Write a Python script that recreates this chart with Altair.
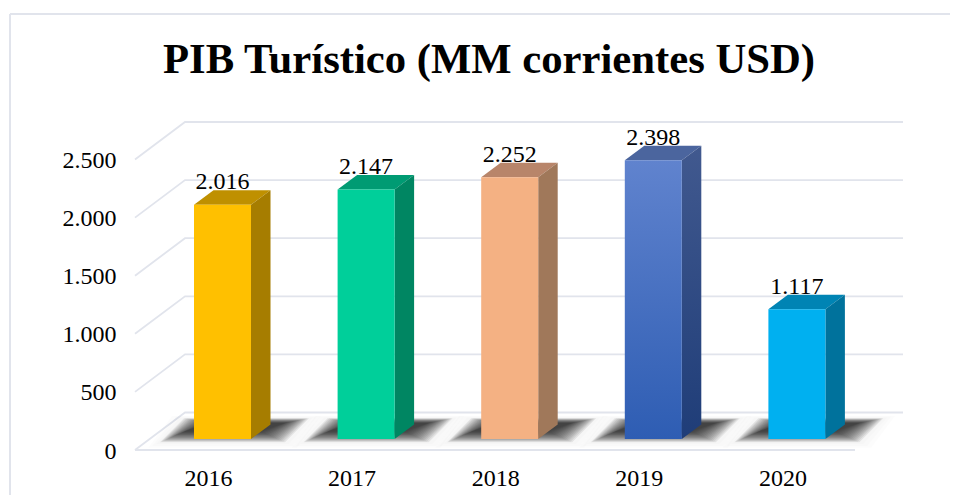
import altair as alt
import pandas as pd

# ---- values
years = [2016, 2017, 2018, 2019, 2020]
values = [2016, 2147, 2252, 2398, 1117]
ticks = [0, 500, 1000, 1500, 2000, 2500]
title_text = "PIB Turístico (MM corrientes USD)"

front = ["#FFC000", "#00CF9A", "#F4B183", ("#6083CE", "#2E5DB3"), "#00B0F0"]
top = ["#BF9000", "#009B73", "#B8856A", "#4B659E", "#0084B4"]
side = ["#A67D00", "#008662", "#A0785A", ("#41598F", "#1F3D78"), "#00729C"]

FONT = "Liberation Serif"
GRID = "#E1E4EC"

# ---- layout
W, H = 768, 328
PX_X = 143.6            # pixels per year
PX_Y = 0.1162           # pixels per unit
X_MIN = 2016 - 87.5 / PX_X
X_MAX = X_MIN + W / PX_X
Y_MAX = H / PX_Y


def dx(px):
    return px / PX_X


def dy(px):
    return px / PX_Y


BAR_BASE = dy(11)
HALF = dx(28.5)
DEPTH_X, DEPTH_Y = dx(19.5), dy(14.5)
WALL_X, WALL_Y = dx(50), dy(37.5)
FLOOR_RIGHT = X_MIN + dx(720)


def para(x0, x1, y0, y1, s):
    """A parallelogram drawn as an area: bottom edge x0..x1 at y0, top edge shifted by s at y1."""
    return pd.DataFrame(
        [
            {"x": x0, "y": y0, "y2": y0},
            {"x": x0 + s, "y": y0, "y2": y1},
            {"x": x1, "y": y0, "y2": y1},
            {"x": x1 + s, "y": y1, "y2": y1},
        ]
    )


def paint(c):
    if isinstance(c, tuple):
        return alt.Gradient(
            gradient="linear",
            stops=[
                alt.GradientStop(color=c[0], offset=0),
                alt.GradientStop(color=c[1], offset=1),
            ],
            x1=0, x2=0, y1=0, y2=1,
        )
    return c


xs = alt.Scale(domain=[X_MIN, X_MAX], nice=False, zero=False)
ys = alt.Scale(domain=[0, Y_MAX], nice=False, zero=False)

X_P = alt.X(
    "x:Q", scale=xs, title=None,
    axis=alt.Axis(
        values=years, format="d", grid=False, domain=False, ticks=False,
        labelFont=FONT, labelFontSize=24, labelColor="#000000",
        labelPadding=16, labelOffset=-14.5, labelOverlap=False, labelFlush=False,
    ),
)
Y_P = alt.Y(
    "y:Q", scale=ys, title=None,
    axis=alt.Axis(
        values=ticks, grid=False, domain=False, ticks=False,
        labelExpr="replace(format(datum.value, ','), ',', '.')",
        labelFont=FONT, labelFontSize=24, labelColor="#000000",
        labelPadding=19, labelOffset=1, labelOverlap=False, labelFlush=False,
    ),
)

layers = []

# frame
layers.append(
    alt.Chart(pd.DataFrame({"a": [0]})).mark_rule(color=GRID, strokeWidth=2).encode(
        x=alt.value(-125), y=alt.value(-108), y2=alt.value(373)
    )
)
layers.append(
    alt.Chart(pd.DataFrame({"a": [0]})).mark_rule(color=GRID, strokeWidth=2).encode(
        x=alt.value(-125), x2=alt.value(815), y=alt.value(-108)
    )
)

# wall and floor lines
grid_rows = []
for t in ticks:
    grid_rows.append({"x": X_MIN, "y": t, "k": f"d{t}"})
    grid_rows.append({"x": X_MIN + WALL_X, "y": t + WALL_Y, "k": f"d{t}"})
    grid_rows.append({"x": X_MAX, "y": t + WALL_Y, "k": f"d{t}"})
grid_rows.append({"x": X_MIN, "y": 0, "k": "floor"})
grid_rows.append({"x": FLOOR_RIGHT, "y": 0, "k": "floor"})
layers.append(
    alt.Chart(pd.DataFrame(grid_rows))
    .mark_line(color=GRID, strokeWidth=1.8)
    .encode(x=X_P, y=Y_P, detail="k:N")
)


def shadow(yr, grow, alpha):
    return (
        alt.Chart(
            para(
                yr - HALF - dx(20 + grow),
                yr + HALF + dx(20 + grow),
                BAR_BASE + dy(3 - grow * 0.45),
                BAR_BASE + dy(18 + grow * 0.2),
                dx(24),
            )
        )
        .mark_area(color="#000000", opacity=alpha)
        .encode(x=X_P, y=Y_P, y2="y2:Q")
    )


# soft shadows on the floor: a faint halo, then nested translucent shapes
for yr in years:
    for grow in (26, 22, 18):
        layers.append(shadow(yr, grow, 0.012))
    for step in range(16):
        layers.append(shadow(yr, 14 - 1.6 * step, 0.075))

# bars
for yr, v, f, t, s in zip(years, values, front, top, side):
    y_top = BAR_BASE + v
    layers.append(
        alt.Chart(para(yr - HALF, yr + HALF, y_top, y_top + DEPTH_Y, DEPTH_X))
        .mark_area(color=paint(t))
        .encode(x=X_P, y=Y_P, y2="y2:Q")
    )
    side_rows = pd.DataFrame(
        [
            {"x": yr + HALF, "y": BAR_BASE, "y2": y_top},
            {"x": yr + HALF + DEPTH_X, "y": BAR_BASE + DEPTH_Y, "y2": y_top + DEPTH_Y},
        ]
    )
    layers.append(
        alt.Chart(side_rows).mark_area(color=paint(s)).encode(x=X_P, y=Y_P, y2="y2:Q")
    )
    layers.append(
        alt.Chart(pd.DataFrame([{"x": yr - HALF, "x2": yr + HALF, "y": BAR_BASE, "y2": y_top}]))
        .mark_rect(color=paint(f))
        .encode(x=X_P, x2="x2:Q", y=Y_P, y2="y2:Q")
    )

# value labels
label_df = pd.DataFrame(
    {
        "x": years,
        "y": [BAR_BASE + v for v in values],
        "label": [f"{v:,}".replace(",", ".") for v in values],
    }
)
layers.append(
    alt.Chart(label_df)
    .mark_text(font=FONT, fontSize=24, color="#000000", baseline="alphabetic", align="center", dy=-15.5)
    .encode(x=X_P, y=Y_P, text="label:N")
)

chart = (
    alt.layer(*layers)
    .properties(
        width=W,
        height=H,
        background="#FFFFFF",
        title=alt.TitleParams(
            text=title_text, font=FONT, fontSize=42.7, fontWeight="bold", color="#000000",
            anchor="middle", dx=-30, offset=-69,
        ),
        padding={"left": 127, "top": 114, "right": 47, "bottom": 45},
        autosize=alt.AutoSizeParams(type="none"),
    )
    .configure_view(strokeWidth=0, stroke="transparent")
)

chart.save("out.html", embed_options={"renderer": "svg", "actions": False})
